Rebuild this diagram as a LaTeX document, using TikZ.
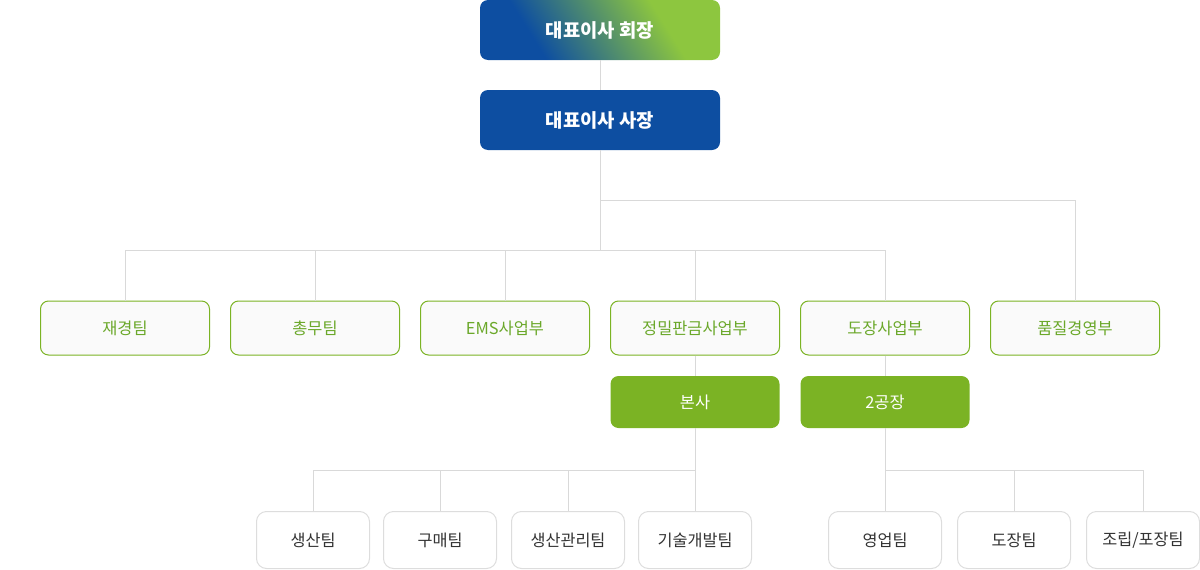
\documentclass[tikz,border=0pt]{standalone}
\usepackage{fontspec}
\setmainfont{Noto Sans CJK KR}
\definecolor{ceoblue}{HTML}{0D4EA1}
\definecolor{ceogreen}{HTML}{8DC63F}
\definecolor{deptgreen}{HTML}{7BB324}
\definecolor{depttext}{HTML}{6BA82A}
\definecolor{linkgray}{HTML}{D9D9D9}
\definecolor{teamgray}{HTML}{DDDDDD}
\definecolor{teamtext}{HTML}{333333}
\pgfdeclarehorizontalshading{ceoshade}{100bp}{color(0bp)=(ceoblue); color(32bp)=(ceoblue); color(67bp)=(ceogreen); color(100bp)=(ceogreen)}

\begin{document}
\begin{tikzpicture}[x=1pt,y=-1pt,
  every node/.style={inner sep=0pt},
  execbox/.style={rounded corners=8pt, minimum width=240pt, minimum height=60pt, text=white, font=\fontsize{18.8}{22}\selectfont\bfseries},
  deptbox/.style={draw=deptgreen, line width=1pt, fill=white!98!black, rounded corners=8pt, minimum width=169pt, minimum height=54pt, text=depttext, font=\fontsize{16.4}{20}\selectfont},
  sitebox/.style={fill=deptgreen, rounded corners=8pt, minimum width=169pt, minimum height=52pt, text=white, font=\fontsize{16.4}{20}\selectfont},
  teambox/.style={draw=teamgray, line width=1pt, fill=white, rounded corners=10pt, minimum width=113pt, minimum height=57pt, text=teamtext, font=\fontsize{16.3}{20}\selectfont},
  link/.style={draw=linkgray, line width=1pt}]
\useasboundingbox (0,0) rectangle (1200,570);
% top
\node [execbox, shading=ceoshade, shading angle=32] (chair) at (600,30) {대표이사 회장};
\node [execbox, fill=ceoblue] (ceo) at (600,120) {대표이사 사장};
% departments
\node [deptbox] (finance) at (125,328) {재경팀};
\node [deptbox] (admin) at (315,328) {총무팀};
\node [deptbox] (ems) at (505,328) {EMS사업부};
\node [deptbox] (sheet) at (695,328) {정밀판금사업부};
\node [deptbox] (paint) at (885,328) {도장사업부};
\node [deptbox] (quality) at (1075,328) {품질경영부};
% sites
\node [sitebox] (hq) at (695,402) {본사};
\node [sitebox] (plant) at (885,402) {2공장};
% teams
\node [teambox] (prod) at (313,540) {생산팀};
\node [teambox] (buy) at (440,540) {구매팀};
\node [teambox] (plan) at (568,540) {생산관리팀};
\node [teambox] (rnd) at (695,540) {기술개발팀};
\node [teambox] (sales) at (885,540) {영업팀};
\node [teambox] (coat) at (1014,540) {도장팀};
\node [teambox] (pack) at (1143,540) {조립/포장팀};
% connectors
\coordinate (qbus) at (600,200);
\coordinate (dbus) at (600,250);
\coordinate (hqbus) at (695,470);
\coordinate (plantbus) at (885,470);
\draw [link] (chair) -- (ceo);
\draw [link] (ceo) -- (dbus);
\draw [link] (qbus) -| (quality);
\draw [link] (dbus) -| (finance);
\draw [link] (dbus) -| (admin);
\draw [link] (dbus) -| (ems);
\draw [link] (dbus) -| (sheet);
\draw [link] (dbus) -| (paint);
\draw [link] (sheet) -- (hq);
\draw [link] (paint) -- (plant);
\draw [link] (hq) -- (hqbus);
\draw [link] (hqbus) -| (prod);
\draw [link] (hqbus) -| (buy);
\draw [link] (hqbus) -| (plan);
\draw [link] (hqbus) -- (rnd);
\draw [link] (plant) -- (plantbus);
\draw [link] (plantbus) -- (sales);
\draw [link] (plantbus) -| (coat);
\draw [link] (plantbus) -| (pack);
\end{tikzpicture}
\end{document}
